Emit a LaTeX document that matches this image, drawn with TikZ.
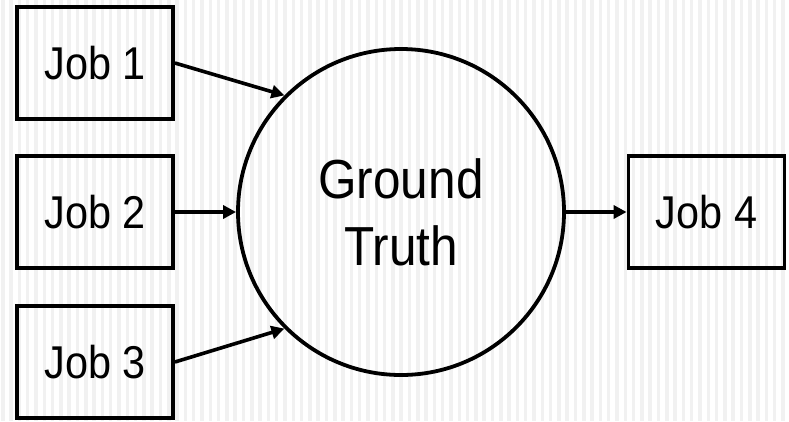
\documentclass[tikz,border=0pt]{standalone}
\usepackage{fontspec}
\setmainfont{Liberation Sans}
\newfontfamily\narrowfont[FakeStretch=0.9]{Liberation Sans}
\usetikzlibrary{arrows.meta}
\definecolor{stripe}{HTML}{F1F1F1}
\tikzset{
  jobbox/.style={draw=black, line width=3.8pt,
    minimum width=156pt, minimum height=112pt, inner sep=0pt,
    font=\narrowfont\fontsize{46}{50}\selectfont},
  truth/.style={draw=black, line width=3.8pt, circle, minimum size=326pt, inner sep=0pt,
    align=center, font=\narrowfont\fontsize{55}{67}\selectfont},
  link/.style={draw=black, line width=3.6pt, -{Triangle[length=13pt,width=13pt]}}
}
\begin{document}
\begin{tikzpicture}[x=1pt,y=-1pt]
\useasboundingbox (0,0) rectangle (789,421);
\fill[white] (0,0) rectangle (789,421);
\foreach \i in {0,...,95} {
  \fill[stripe] ({\i*8.3+1},0) rectangle ({\i*8.3+4.5},421);
}
\node[jobbox] (j1) at (95,63) {Job 1};
\node[jobbox] (j2) at (95,212) {Job 2};
\node[jobbox] (j3) at (95,362) {Job 3};
\node[jobbox] (j4) at (706.5,212) {Job 4};
\node[truth] (gt) at (401,212) {Ground\\Truth};
\draw[link] (j1.east) -- (gt.135);
\draw[link] (j2.east) -- (gt.west);
\draw[link] (j3.east) -- (gt.225);
\draw[link] (gt.east) -- (j4.west);
\end{tikzpicture}
\end{document}
